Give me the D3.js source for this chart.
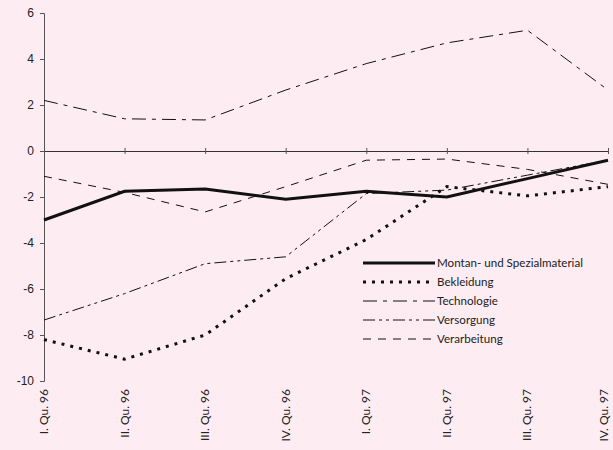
<!DOCTYPE html>
<html>
<head>
<meta charset="utf-8">
<script src="https://cdn.jsdelivr.net/npm/d3@7/dist/d3.min.js"></script>
<style>
  body { margin: 0; background: #fdedf2; }
  svg { display: block; font-family: 'Lato', 'DejaVu Sans', sans-serif; }
</style>
</head>
<body>
<div class="chart"></div>
<script>
// Data
const quarters = ['I. Qu. 96', 'II. Qu. 96', 'III. Qu. 96', 'IV. Qu. 96', 'I. Qu. 97', 'II. Qu. 97', 'III. Qu. 97', 'IV. Qu. 97'];
const yTicks = [6, 4, 2, 0, -2, -4, -6, -8, -10];
const seriesNames = ['Montan- und Spezialmaterial', 'Bekleidung', 'Technologie', 'Versorgung', 'Verarbeitung'];
const montan = [-3.0, -1.75, -1.65, -2.1, -1.75, -2.0, -1.2, -0.4];
const bekleidung = [-8.2, -9.05, -8.0, -5.55, -3.85, -1.55, -1.95, -1.55];
const technologie = [2.2, 1.4, 1.35, 2.65, 3.8, 4.7, 5.25, 2.65];
const versorgung = [-7.35, -6.2, -4.9, -4.6, -1.85, -1.7, -1.05, -0.4];
const verarbeitung = [-1.1, -1.8, -2.65, -1.55, -0.4, -0.35, -0.8, -1.45];

const width = 613, height = 450;
const margin = { top: 13, left: 44, right: 5, bottom: 69 };

const svg = d3.select('.chart')
    .append('svg')
    .attr('width', width)
    .attr('height', height);

const x = d3.scalePoint()
    .domain(quarters)
    .range([margin.left, 608]);

const y = d3.scaleLinear()
    .domain([-10, 6])
    .range([381, margin.top]);

// line styles, one per series
const styles = [
    { w: 3, dash: null },
    { w: 3, dash: '3,6' },
    { w: 1, dash: '14,6,4,6' },
    { w: 1, dash: '12,4,3,4,3,4' },
    { w: 1, dash: '8,7' }
];
const allSeries = [montan, bekleidung, technologie, versorgung, verarbeitung];

// Y axis
const yAxis = d3.axisLeft(y).tickValues(yTicks).tickSize(4).tickFormat(d3.format('d'));
const yG = svg.append('g')
    .attr('transform', `translate(${margin.left},0)`)
    .call(yAxis);
yG.select('.domain').attr('stroke', '#555').attr('stroke-width', 1);
yG.selectAll('.tick line').attr('stroke', '#555');
yG.selectAll('.tick text')
    .attr('x', -10)
    .attr('font-size', 12)
    .attr('fill', '#222')
    .text(d => d < 0 ? '-' + Math.abs(d) : d);

// Zero line with category ticks
const xAxis = d3.axisBottom(x).tickSize(3).tickSizeOuter(0).tickFormat('');
const xG = svg.append('g')
    .attr('transform', `translate(0,${y(0)})`)
    .call(xAxis);
xG.select('.domain').attr('stroke', '#333').attr('stroke-width', 1.2);
xG.selectAll('.tick line').attr('y1', -3).attr('stroke', '#555');

// Category labels (last one pulled in so it stays inside the frame)
svg.append('g')
    .selectAll('text')
    .data(quarters)
    .enter()
    .append('text')
    .attr('transform', d => `translate(${Math.min(x(d) + 4, 608)},389) rotate(-90)`)
    .attr('text-anchor', 'end')
    .attr('font-size', 12)
    .attr('fill', '#222')
    .text(d => d);

// Lines
const line = d3.line()
    .x((d, i) => x(quarters[i]))
    .y(d => y(d));

svg.append('g')
    .selectAll('path')
    .data(allSeries)
    .enter()
    .append('path')
    .attr('d', d => line(d))
    .attr('fill', 'none')
    .attr('stroke', '#111')
    .attr('stroke-width', (d, i) => styles[i].w)
    .attr('stroke-dasharray', (d, i) => styles[i].dash);

// Legend
const legend = svg.append('g')
    .attr('transform', 'translate(363,263)');

const items = legend.selectAll('g')
    .data(seriesNames)
    .enter()
    .append('g')
    .attr('transform', (d, i) => `translate(0,${i * 19})`);

items.append('line')
    .attr('x1', 0)
    .attr('x2', 72)
    .attr('stroke', '#111')
    .attr('stroke-width', (d, i) => styles[i].w)
    .attr('stroke-dasharray', (d, i) => styles[i].dash);

items.append('text')
    .attr('x', 74)
    .attr('dy', '0.35em')
    .attr('font-size', 11.6)
    .attr('fill', '#222')
    .text(d => d);
</script>
</body>
</html>
